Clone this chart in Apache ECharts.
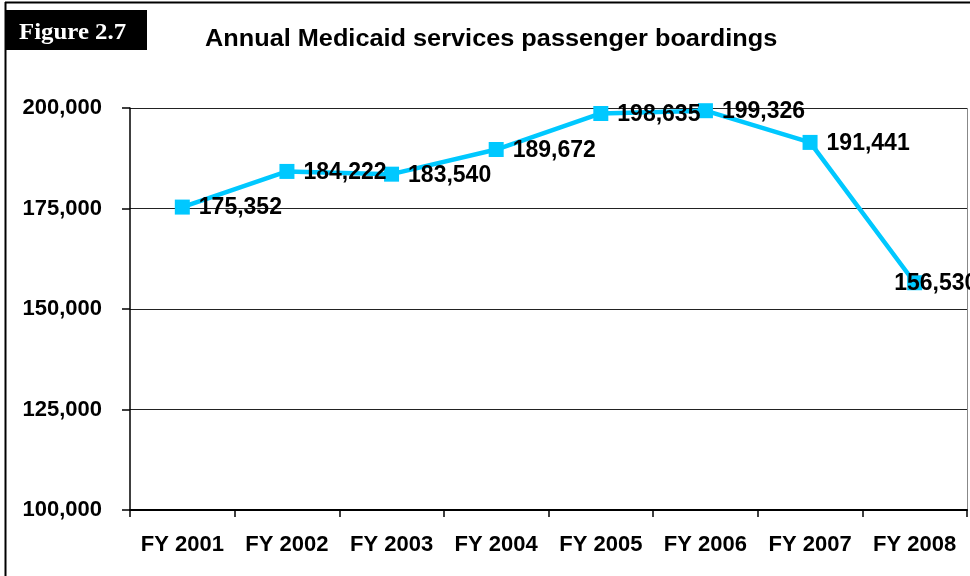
<!DOCTYPE html>
<html><head><meta charset="utf-8">
<script src="https://cdn.jsdelivr.net/npm/echarts@6/dist/echarts.min.js"></script>
<style>html,body{margin:0;padding:0;background:#fff}#c{width:970px;height:576px}</style>
</head><body><div id="c"></div>
<script>
const categories = ['FY 2001','FY 2002','FY 2003','FY 2004','FY 2005','FY 2006','FY 2007','FY 2008'];
const boardings = [175352, 184222, 183540, 189672, 198635, 199326, 191441, 156530];
const yTicks = [100000, 125000, 150000, 175000, 200000];

const fmt = v => v.toLocaleString('en-US');
const chart = echarts.init(document.getElementById('c'));
const seriesData = boardings.map((v, i) => {
  const d = { value: v };
  if (i === boardings.length - 1) d.label = { offset: [-37, 1] };
  return d;
});
chart.setOption({
  animation: false,
  textStyle: { fontFamily: 'Liberation Sans, Arial, sans-serif' },
  graphic: [
    { type: 'line', shape: { x1: 5, y1: 2.5, x2: 970, y2: 2.5 }, style: { stroke: '#000', lineWidth: 2 } },
    { type: 'line', shape: { x1: 5.5, y1: 2, x2: 5.5, y2: 576 }, style: { stroke: '#000', lineWidth: 2 } },
    { type: 'rect', shape: { x: 6, y: 10, width: 141, height: 40 }, style: { fill: '#000' } },
    { type: 'text', x: 19, y: 33, scaleX: 1.08, style: { text: 'Figure 2.7', fill: '#fff', verticalAlign: 'middle', fontSize: 23, fontWeight: 'bold', fontFamily: '"Liberation Serif", "Times New Roman", serif' } },
    { type: 'text', x: 205, y: 40, scaleX: 1.1, style: { text: 'Annual Medicaid services passenger boardings', fill: '#000', verticalAlign: 'middle', fontSize: 23, fontWeight: 'bold', fontFamily: '"Liberation Sans", Arial, sans-serif' } },
    { type: 'line', shape: { x1: 967.5, y1: 108, x2: 967.5, y2: 510 }, style: { stroke: '#888', lineWidth: 1 } }
  ],
  grid: { left: 130, right: 3, top: 108, bottom: 66, containLabel: false },
  xAxis: {
    type: 'category', data: categories, boundaryGap: true,
    axisLine: { lineStyle: { color: '#000', width: 2 } },
    axisTick: { show: true, length: 7, inside: false, alignWithLabel: false, lineStyle: { color: '#000', width: 1.5 } },
    axisLabel: { color: '#000', fontSize: 22, fontWeight: 'bold', margin: 24, interval: 0 },
    splitLine: { show: false }
  },
  yAxis: {
    type: 'value', min: 100000, max: 200000, interval: 25000,
    axisLine: { show: true, lineStyle: { color: '#000', width: 1.5 } },
    axisTick: { show: true, length: 8, lineStyle: { color: '#000', width: 1.5 } },
    axisLabel: { color: '#000', fontSize: 22, fontWeight: 'bold', margin: 28,
      formatter: v => yTicks.includes(v) ? fmt(v) : '' },
    splitLine: { show: true, lineStyle: { color: '#222', width: 1.2 } }
  },
  series: [{
    type: 'line', data: seriesData,
    symbol: 'rect', symbolSize: 15,
    lineStyle: { color: '#00C8FF', width: 4.5 },
    itemStyle: { color: '#00C8FF' },
    label: { show: true, position: 'right', distance: 9, offset: [0, 1], color: '#000', fontSize: 23, fontWeight: 'bold',
      formatter: p => fmt(p.value) },
    z: 3
  }]
});
</script></body></html>
